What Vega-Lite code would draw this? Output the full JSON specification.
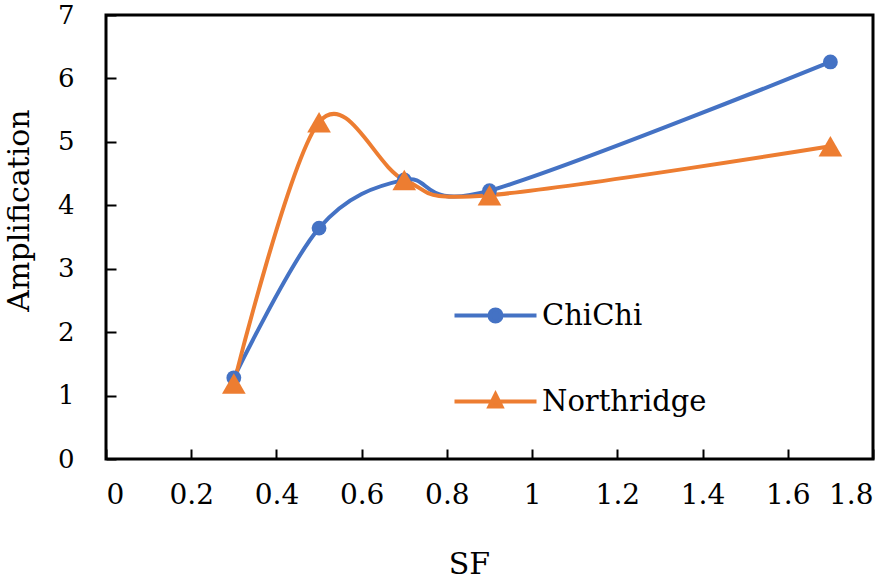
{
  "$schema": "https://vega.github.io/schema/vega-lite/v6.json",
  "width": 767,
  "height": 444,
  "autosize": {"type": "none"},
  "padding": {"left": 106, "top": 15, "right": 23, "bottom": 125},
  "background": "white",
  "config": {
    "font": "DejaVu Serif",
    "view": {"stroke": "black", "strokeWidth": 3},
    "axis": {"grid": false, "domain": false, "tickColor": "black", "tickWidth": 2, "tickSize": -10, "labelColor": "black", "titleColor": "black", "titleFontWeight": "normal", "labelFont": "DejaVu Serif", "titleFont": "DejaVu Serif"}
  },
  "data": {
    "values": [
      {"SF": 0.3, "Amplification": 1.28, "Record": "ChiChi"},
      {"SF": 0.5, "Amplification": 3.64, "Record": "ChiChi"},
      {"SF": 0.7, "Amplification": 4.40, "Record": "ChiChi"},
      {"SF": 0.9, "Amplification": 4.23, "Record": "ChiChi"},
      {"SF": 1.7, "Amplification": 6.26, "Record": "ChiChi"},
      {"SF": 0.3, "Amplification": 1.19, "Record": "Northridge"},
      {"SF": 0.5, "Amplification": 5.31, "Record": "Northridge"},
      {"SF": 0.7, "Amplification": 4.40, "Record": "Northridge"},
      {"SF": 0.9, "Amplification": 4.16, "Record": "Northridge"},
      {"SF": 1.7, "Amplification": 4.93, "Record": "Northridge"}
    ]
  },
  "encoding": {
    "x": {"field": "SF", "type": "quantitative", "scale": {"domain": [0, 1.8], "nice": false},
      "axis": {"title": "SF", "values": [0, 0.2, 0.4, 0.6, 0.8, 1, 1.2, 1.4, 1.6, 1.8], "format": "~g", "labelFontSize": 28, "titleFontSize": 30, "labelPadding": 32, "titlePadding": 40, "titleX": 363}},
    "y": {"field": "Amplification", "type": "quantitative", "scale": {"domain": [0, 7], "nice": false},
      "axis": {"title": "Amplification", "values": [0, 1, 2, 3, 4, 5, 6, 7], "labelFontSize": 26, "titleFontSize": 30, "labelPadding": 42, "titlePadding": 23, "titleY": 195}},
    "color": {"field": "Record", "type": "nominal", "scale": {"domain": ["ChiChi", "Northridge"], "range": ["#4472C4", "#ED7D31"]},
      "legend": {"orient": "none", "legendX": 375, "legendY": 286, "title": null, "labelFontSize": 29, "labelColor": "black", "labelFont": "DejaVu Serif", "labelLimit": 400, "symbolSize": 400, "symbolStrokeWidth": 4, "rowPadding": 55, "labelOffset": 32, "padding": 0,
        "encode": {"symbols": {"update": {
          "shape": {"signal": "datum.value === 'ChiChi' ? 'M-4.1,0H4.1M0.6,0A0.6,0.6 0 1,1 -0.6,0A0.6,0.6 0 1,1 0.6,0Z' : 'M-4.1,0H4.1M0,-0.7L0.6,0.5L-0.6,0.5Z'"},
          "fill": {"signal": "datum.value === 'ChiChi' ? '#4472C4' : '#ED7D31'"},
          "stroke": {"signal": "datum.value === 'ChiChi' ? '#4472C4' : '#ED7D31'"},
          "strokeWidth": {"value": 4}
        }}}}
    }
  },
  "layer": [
    {"mark": {"type": "line", "interpolate": "cardinal", "strokeWidth": 4}},
    {"transform": [{"filter": "datum.Record === 'ChiChi'"}],
      "mark": {"type": "point", "filled": true, "opacity": 1, "shape": "circle", "size": 220}},
    {"transform": [{"filter": "datum.Record === 'Northridge'"}],
      "mark": {"type": "point", "filled": true, "opacity": 1, "shape": "triangle-up", "size": 560}}
  ]
}
